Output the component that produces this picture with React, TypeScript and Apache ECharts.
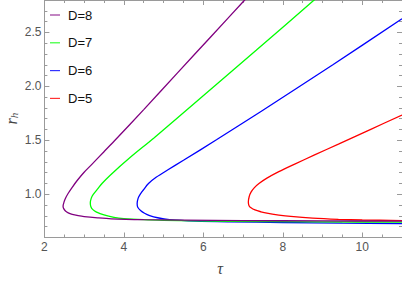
import React, { useEffect, useRef } from "react";
import * as echarts from "echarts";

const seriesNames = ["D=8", "D=7", "D=6", "D=5"];

const d8Points: [number, number][] = [
  [11, 0.752], [9, 0.754], [7, 0.757], [5.5, 0.761], [4.5, 0.765], [3.68, 0.773],
  [3.34, 0.782], [3.0, 0.794], [2.85, 0.803], [2.7, 0.815], [2.6, 0.828], [2.53, 0.845], [2.49, 0.865],
  [2.47, 0.888],
  [2.495, 0.93], [2.54, 0.97], [2.6, 1.01], [2.7, 1.065], [2.84, 1.135], [3.0, 1.205], [3.2, 1.28],
  [3.5, 1.395], [3.8, 1.51], [4.5, 1.785], [5.35, 2.125], [6.19, 2.46], [7.03, 2.795], [7.2, 2.865],
];

const d7Points: [number, number][] = [
  [11, 0.742], [9, 0.745], [6.66, 0.75], [5, 0.76], [4.5, 0.765], [4.0, 0.775],
  [3.75, 0.787], [3.5, 0.809], [3.3, 0.838], [3.22, 0.858], [3.17, 0.885],
  [3.155, 0.92],
  [3.18, 0.965], [3.23, 1.0], [3.33, 1.045], [3.45, 1.1], [3.65, 1.175], [4.17, 1.345],
  [4.75, 1.52], [5.91, 1.885], [7.33, 2.335], [8.76, 2.79], [8.95, 2.85],
];

const d6Points: [number, number][] = [
  [11, 0.728], [9.5, 0.733], [8, 0.739], [6.66, 0.745], [5.8, 0.752], [5.15, 0.766],
  [4.85, 0.783], [4.65, 0.803], [4.52, 0.825], [4.42, 0.85], [4.35, 0.88],
  [4.334, 0.915],
  [4.36, 0.965], [4.41, 1.0], [4.49, 1.04], [4.62, 1.1], [4.82, 1.16], [5.1, 1.225],
  [5.5, 1.315], [6.33, 1.505], [7.46, 1.77], [9.26, 2.2], [11, 2.627],
];

const d5Points: [number, number][] = [
  [11, 0.757], [10, 0.762], [9.4, 0.768], [8.75, 0.779], [8.2, 0.795], [7.9, 0.808],
  [7.6, 0.825], [7.45, 0.838], [7.3, 0.855], [7.2, 0.875], [7.15, 0.895],
  [7.133, 0.93],
  [7.155, 0.98], [7.2, 1.02], [7.28, 1.06], [7.4, 1.1], [7.6, 1.15], [7.9, 1.21],
  [8.3, 1.28], [8.8, 1.365], [9.4, 1.465], [10.2, 1.6], [11, 1.735],
];

const seriesData = [d8Points, d7Points, d6Points, d5Points];
const yMajorTicks = [1.0, 1.5, 2.0, 2.5];
const xTitle = "τ";
const yTitleMain = "r";
const yTitleSub = "h";

const colors = ["#800080", "#00ff00", "#0000ff", "#ff0000"];
const legendRows = [15, 42.8, 70.6, 98.4];
const axisGray = "#9a9a9a";
const labelGray = "#555";
const titleGray = "#444";
const sans = '"Liberation Sans", Arial, sans-serif';
const serif = '"Liberation Serif", "Times New Roman", serif';

export default function App() {
  const ref = useRef<HTMLDivElement>(null);
  useEffect(() => {
    document.body.style.margin = "0";
    if (!ref.current) return;
    const chart = echarts.init(ref.current, null, { renderer: "svg" });
    const yRange = { min: 0.6, max: 2.8 };
    const tickLine = { color: axisGray, width: 1 };
    chart.setOption({
      animation: false,
      grid: { left: 44.4, right: 0, top: 0, bottom: 43.5, containLabel: false, outerBoundsMode: "none" },
      xAxis: [
        {
          type: "value", min: 2, max: 11, interval: 2, position: "bottom",
          axisLine: { show: true, lineStyle: tickLine },
          axisTick: { show: true, inside: true, length: 5, lineStyle: tickLine },
          minorTick: { show: true, splitNumber: 4, length: 3, lineStyle: tickLine },
          splitLine: { show: false },
          axisLabel: { margin: 3, color: labelGray, fontSize: 12, fontFamily: sans, showMaxLabel: false },
        },
        {
          type: "value", min: 2, max: 11, interval: 2, position: "top",
          axisLine: { show: true, lineStyle: tickLine },
          axisTick: { show: true, inside: true, length: 5, lineStyle: tickLine },
          minorTick: { show: true, splitNumber: 4, length: 3, lineStyle: tickLine },
          splitLine: { show: false },
          axisLabel: { show: false },
        },
      ],
      yAxis: [
        {
          type: "value", ...yRange, interval: 0.1, position: "left",
          axisLine: { show: true, lineStyle: tickLine },
          axisTick: { show: true, inside: true, length: 3, lineStyle: tickLine },
          splitLine: { show: false },
          axisLabel: {
            margin: 3, color: labelGray, fontSize: 12, fontFamily: sans,
            formatter: (v: number) =>
              yMajorTicks.some((t) => Math.abs(t - v) < 1e-6) ? v.toFixed(1) : "",
          },
        },
        {
          type: "value", ...yRange, position: "left",
          axisLine: { show: false },
          axisTick: { show: true, inside: true, length: 5, lineStyle: tickLine, customValues: yMajorTicks },
          axisLabel: { show: false, customValues: yMajorTicks },
          splitLine: { show: false },
        },
        {
          type: "value", ...yRange, interval: 0.1, position: "right",
          axisLine: { show: true, lineStyle: tickLine },
          axisTick: { show: true, inside: true, length: 3, lineStyle: tickLine },
          axisLabel: { show: false },
          splitLine: { show: false },
        },
        {
          type: "value", ...yRange, position: "right",
          axisLine: { show: false },
          axisTick: { show: true, inside: true, length: 5, lineStyle: tickLine, customValues: yMajorTicks },
          axisLabel: { show: false, customValues: yMajorTicks },
          splitLine: { show: false },
        },
      ],
      series: seriesNames.map((name, i) => ({
        name,
        type: "line",
        xAxisIndex: 0,
        yAxisIndex: 0,
        data: seriesData[i],
        showSymbol: false,
        symbol: "none",
        smooth: 0.3,
        clip: true,
        lineStyle: { color: colors[i], width: 1.3 },
        z: 2 + (3 - i),
      })),
      graphic: [
        ...seriesNames.flatMap((name, i) => [
          {
            type: "line",
            shape: { x1: 50, y1: legendRows[i], x2: 60, y2: legendRows[i] },
            style: { stroke: colors[i], lineWidth: 1.2, opacity: 0.8 },
          },
          {
            type: "text",
            x: 68,
            y: legendRows[i],
            style: { text: name, fill: "#111", fontSize: 13, fontFamily: sans, verticalAlign: "middle" },
          },
        ]),
        {
          type: "text", x: 220, y: 268,
          style: {
            text: xTitle, fill: titleGray, fontSize: 16, fontFamily: serif, fontStyle: "italic",
            align: "center", verticalAlign: "middle",
          },
        },
        {
          type: "text", x: 11, y: 121.5, rotation: Math.PI / 2,
          style: {
            text: yTitleMain, fill: titleGray, fontSize: 16, fontFamily: serif, fontStyle: "italic",
            align: "center", verticalAlign: "middle",
          },
        },
        {
          type: "text", x: 13.5, y: 115.5, rotation: Math.PI / 2,
          style: {
            text: yTitleSub, fill: titleGray, fontSize: 11, fontFamily: serif, fontStyle: "italic",
            align: "center", verticalAlign: "middle",
          },
        },
      ],
    });
    return () => chart.dispose();
  }, []);
  return <div ref={ref} style={{ width: 402, height: 281 }} />;
}
